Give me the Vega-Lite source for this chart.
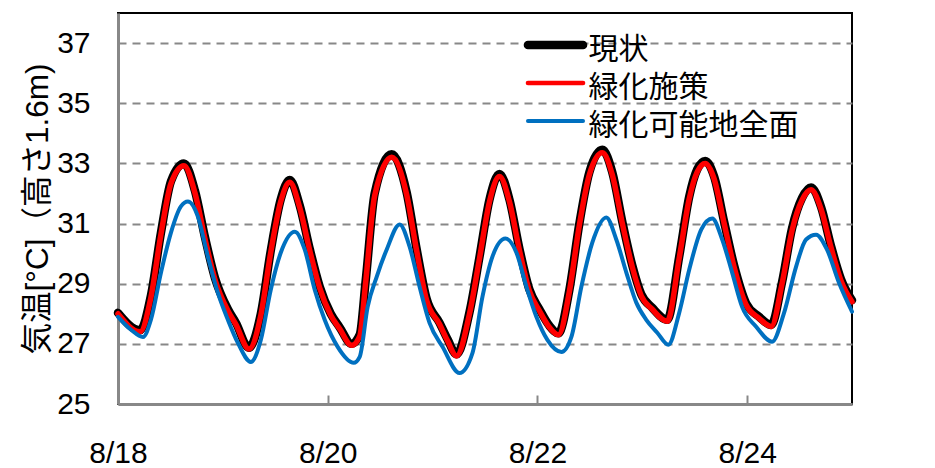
{
  "$schema": "https://vega.github.io/schema/vega-lite/v6.json",
  "width": 734,
  "height": 391,
  "autosize": {"type": "none"},
  "padding": {"left": 118, "top": 13, "right": 83, "bottom": 64},
  "background": "white",
  "datasets": {
    "genjo": [
      {"d": 18.000, "t": 28.03}, {"d": 18.210, "t": 27.45}, {"d": 18.314, "t": 28.6}, {"d": 18.410, "t": 30.7},
      {"d": 18.505, "t": 32.4}, {"d": 18.629, "t": 33.0}, {"d": 18.733, "t": 32.1}, {"d": 18.829, "t": 30.55},
      {"d": 18.924, "t": 29.2}, {"d": 19.048, "t": 28.15}, {"d": 19.124, "t": 27.7}, {"d": 19.248, "t": 26.87},
      {"d": 19.362, "t": 28.0}, {"d": 19.457, "t": 30.1}, {"d": 19.552, "t": 31.8}, {"d": 19.638, "t": 32.45},
      {"d": 19.733, "t": 31.6}, {"d": 19.829, "t": 30.15}, {"d": 19.924, "t": 28.9}, {"d": 20.029, "t": 28.0},
      {"d": 20.114, "t": 27.55}, {"d": 20.229, "t": 27.0}, {"d": 20.305, "t": 27.3}, {"d": 20.362, "t": 29.1},
      {"d": 20.448, "t": 32.0}, {"d": 20.610, "t": 33.3}, {"d": 20.752, "t": 32.05}, {"d": 20.848, "t": 30.15},
      {"d": 20.943, "t": 28.5}, {"d": 21.067, "t": 27.7}, {"d": 21.143, "t": 27.15}, {"d": 21.229, "t": 26.65},
      {"d": 21.352, "t": 28.05}, {"d": 21.448, "t": 29.9}, {"d": 21.543, "t": 31.8}, {"d": 21.638, "t": 32.65},
      {"d": 21.733, "t": 31.8}, {"d": 21.829, "t": 30.15}, {"d": 21.924, "t": 28.8}, {"d": 22.019, "t": 28.15},
      {"d": 22.114, "t": 27.6}, {"d": 22.200, "t": 27.35}, {"d": 22.305, "t": 28.8}, {"d": 22.400, "t": 31.0},
      {"d": 22.495, "t": 32.7}, {"d": 22.619, "t": 33.45}, {"d": 22.714, "t": 32.7}, {"d": 22.810, "t": 31.05},
      {"d": 22.905, "t": 29.6}, {"d": 22.990, "t": 28.65}, {"d": 23.095, "t": 28.2}, {"d": 23.238, "t": 27.8},
      {"d": 23.352, "t": 29.9}, {"d": 23.448, "t": 31.9}, {"d": 23.524, "t": 32.8}, {"d": 23.600, "t": 33.08},
      {"d": 23.686, "t": 32.55}, {"d": 23.781, "t": 31.05}, {"d": 23.876, "t": 29.6}, {"d": 23.990, "t": 28.35},
      {"d": 24.114, "t": 27.9}, {"d": 24.229, "t": 27.63}, {"d": 24.333, "t": 29.05}, {"d": 24.429, "t": 30.85},
      {"d": 24.524, "t": 31.85}, {"d": 24.610, "t": 32.2}, {"d": 24.705, "t": 31.55}, {"d": 24.800, "t": 30.25},
      {"d": 24.895, "t": 29.15}, {"d": 25.000, "t": 28.45}
    ],
    "shisaku": [
      {"d": 18.000, "t": 28.0}, {"d": 18.210, "t": 27.4}, {"d": 18.314, "t": 28.55}, {"d": 18.410, "t": 30.65},
      {"d": 18.505, "t": 32.33}, {"d": 18.629, "t": 32.92}, {"d": 18.733, "t": 32.03}, {"d": 18.829, "t": 30.5},
      {"d": 18.924, "t": 29.15}, {"d": 19.048, "t": 28.1}, {"d": 19.124, "t": 27.65}, {"d": 19.248, "t": 26.83},
      {"d": 19.362, "t": 27.95}, {"d": 19.457, "t": 30.05}, {"d": 19.552, "t": 31.73}, {"d": 19.638, "t": 32.37},
      {"d": 19.733, "t": 31.53}, {"d": 19.829, "t": 30.1}, {"d": 19.924, "t": 28.85}, {"d": 20.029, "t": 27.95},
      {"d": 20.114, "t": 27.5}, {"d": 20.229, "t": 26.95}, {"d": 20.305, "t": 27.25}, {"d": 20.362, "t": 29.05},
      {"d": 20.448, "t": 31.93}, {"d": 20.610, "t": 33.2}, {"d": 20.752, "t": 31.98}, {"d": 20.848, "t": 30.1},
      {"d": 20.943, "t": 28.45}, {"d": 21.067, "t": 27.65}, {"d": 21.143, "t": 27.1}, {"d": 21.229, "t": 26.6},
      {"d": 21.352, "t": 28.0}, {"d": 21.448, "t": 29.85}, {"d": 21.543, "t": 31.73}, {"d": 21.638, "t": 32.56},
      {"d": 21.733, "t": 31.73}, {"d": 21.829, "t": 30.1}, {"d": 21.924, "t": 28.75}, {"d": 22.019, "t": 28.1},
      {"d": 22.114, "t": 27.55}, {"d": 22.200, "t": 27.3}, {"d": 22.305, "t": 28.75}, {"d": 22.400, "t": 30.95},
      {"d": 22.495, "t": 32.62}, {"d": 22.619, "t": 33.35}, {"d": 22.714, "t": 32.62}, {"d": 22.810, "t": 31.0},
      {"d": 22.905, "t": 29.55}, {"d": 22.990, "t": 28.6}, {"d": 23.095, "t": 28.15}, {"d": 23.238, "t": 27.75},
      {"d": 23.352, "t": 29.85}, {"d": 23.448, "t": 31.83}, {"d": 23.524, "t": 32.72}, {"d": 23.600, "t": 33.0},
      {"d": 23.686, "t": 32.48}, {"d": 23.781, "t": 31.0}, {"d": 23.876, "t": 29.55}, {"d": 23.990, "t": 28.3},
      {"d": 24.114, "t": 27.85}, {"d": 24.229, "t": 27.58}, {"d": 24.333, "t": 29.0}, {"d": 24.429, "t": 30.78},
      {"d": 24.524, "t": 31.78}, {"d": 24.610, "t": 32.12}, {"d": 24.705, "t": 31.48}, {"d": 24.800, "t": 30.2},
      {"d": 24.895, "t": 29.1}, {"d": 25.000, "t": 28.4}
    ],
    "zenmen": [
      {"d": 18.000, "t": 27.9}, {"d": 18.124, "t": 27.47}, {"d": 18.238, "t": 27.23}, {"d": 18.314, "t": 27.8},
      {"d": 18.410, "t": 29.37}, {"d": 18.505, "t": 30.7}, {"d": 18.600, "t": 31.57}, {"d": 18.667, "t": 31.73},
      {"d": 18.762, "t": 31.23}, {"d": 18.857, "t": 29.9}, {"d": 18.952, "t": 28.7}, {"d": 19.048, "t": 27.8},
      {"d": 19.143, "t": 27.03}, {"d": 19.267, "t": 26.4}, {"d": 19.362, "t": 27.13}, {"d": 19.457, "t": 28.8},
      {"d": 19.552, "t": 30.03}, {"d": 19.686, "t": 30.73}, {"d": 19.781, "t": 30.13}, {"d": 19.876, "t": 28.8},
      {"d": 19.971, "t": 27.8}, {"d": 20.095, "t": 26.9}, {"d": 20.248, "t": 26.37}, {"d": 20.305, "t": 26.57},
      {"d": 20.381, "t": 28.23}, {"d": 20.467, "t": 29.23}, {"d": 20.562, "t": 30.13}, {"d": 20.686, "t": 30.97},
      {"d": 20.781, "t": 30.23}, {"d": 20.876, "t": 28.9}, {"d": 20.971, "t": 27.7}, {"d": 21.095, "t": 26.9},
      {"d": 21.257, "t": 26.03}, {"d": 21.381, "t": 26.7}, {"d": 21.476, "t": 28.57}, {"d": 21.571, "t": 29.9},
      {"d": 21.695, "t": 30.5}, {"d": 21.800, "t": 30.03}, {"d": 21.895, "t": 28.9}, {"d": 21.990, "t": 27.9},
      {"d": 22.095, "t": 27.13}, {"d": 22.229, "t": 26.73}, {"d": 22.324, "t": 27.23}, {"d": 22.419, "t": 28.9},
      {"d": 22.524, "t": 30.37}, {"d": 22.657, "t": 31.2}, {"d": 22.752, "t": 30.47}, {"d": 22.848, "t": 29.37},
      {"d": 22.943, "t": 28.37}, {"d": 23.038, "t": 27.8}, {"d": 23.143, "t": 27.37}, {"d": 23.248, "t": 26.97},
      {"d": 23.352, "t": 28.03}, {"d": 23.448, "t": 29.47}, {"d": 23.562, "t": 30.8}, {"d": 23.667, "t": 31.17},
      {"d": 23.762, "t": 30.47}, {"d": 23.857, "t": 29.37}, {"d": 23.952, "t": 28.23}, {"d": 24.086, "t": 27.57},
      {"d": 24.238, "t": 27.07}, {"d": 24.352, "t": 28.03}, {"d": 24.467, "t": 29.57}, {"d": 24.562, "t": 30.47},
      {"d": 24.657, "t": 30.63}, {"d": 24.762, "t": 30.13}, {"d": 24.876, "t": 29.03}, {"d": 25.000, "t": 28.07}
    ]
  },
  "encoding": {
    "x": {
      "field": "d", "type": "quantitative",
      "scale": {"domain": [18, 25], "nice": false, "zero": false},
      "axis": {
        "title": null, "values": [18, 20, 22, 24], "labelExpr": "'8/' + datum.value",
        "grid": false, "tickSize": -9, "tickColor": "#888888", "tickWidth": 2,
        "domainColor": "#888888", "domainWidth": 3, "labelPadding": 43,
        "labelFontSize": 30, "labelColor": "#000000", "labelFont": "Liberation Sans",
        "labelFlush": false
      }
    },
    "y": {
      "field": "t", "type": "quantitative",
      "scale": {"domain": [25, 38], "nice": false, "zero": false},
      "axis": {
        "title": "気温[°C]（高さ1.6m)", "values": [25, 27, 29, 31, 33, 35, 37],
        "ticks": false, "labelPadding": 28, "labelFontSize": 30, "labelColor": "#000000",
        "labelFont": "Liberation Sans",
        "domainColor": "#888888", "domainWidth": 3,
        "grid": true, "gridColor": "#888888", "gridWidth": 2, "gridDash": [8, 6],
        "titleFont": "Liberation Sans, Noto Sans CJK JP", "titleFontSize": 31.5,
        "titleFontWeight": "normal", "titleColor": "#000000", "titlePadding": 2
      }
    }
  },
  "layer": [
    {
      "data": {"name": "genjo"},
      "mark": {"type": "line", "interpolate": "monotone", "strokeWidth": 8.5, "strokeCap": "round", "strokeJoin": "round"},
      "encoding": {"color": {"datum": "現状", "type": "nominal"}}
    },
    {
      "data": {"name": "shisaku"},
      "mark": {"type": "line", "interpolate": "monotone", "strokeWidth": 5.5, "strokeCap": "round", "strokeJoin": "round"},
      "encoding": {"color": {"datum": "緑化施策", "type": "nominal"}}
    },
    {
      "data": {"name": "zenmen"},
      "mark": {"type": "line", "interpolate": "monotone", "strokeWidth": 4, "strokeCap": "round", "strokeJoin": "round"},
      "encoding": {
        "color": {
          "datum": "緑化可能地全面", "type": "nominal",
          "scale": {"domain": ["現状", "緑化施策", "緑化可能地全面"], "range": ["#000000", "#FF0000", "#0070C0"]},
          "legend": {
            "title": null, "orient": "none", "legendX": 422.5, "legendY": 17,
            "symbolType": "M-1.45,0H1.45", "symbolSize": 1444, "labelFontSize": 30,
            "labelFont": "Noto Sans CJK JP", "labelColor": "#000000", "labelOffset": 18,
            "rowPadding": 3, "padding": 0, "labelLimit": 400,
            "encode": {
              "symbols": {"update": {
                "strokeWidth": {"signal": "datum.value == '現状' ? 8.5 : datum.value == '緑化施策' ? 4.5 : 4"},
                "strokeCap": {"value": "round"}
              }},
              "labels": {"update": {"dy": {"value": 5}}}
            }
          }
        }
      }
    }
  ],
  "config": {
    "view": {"stroke": "#000000", "strokeWidth": 2},
    "font": "Liberation Sans"
  }
}
